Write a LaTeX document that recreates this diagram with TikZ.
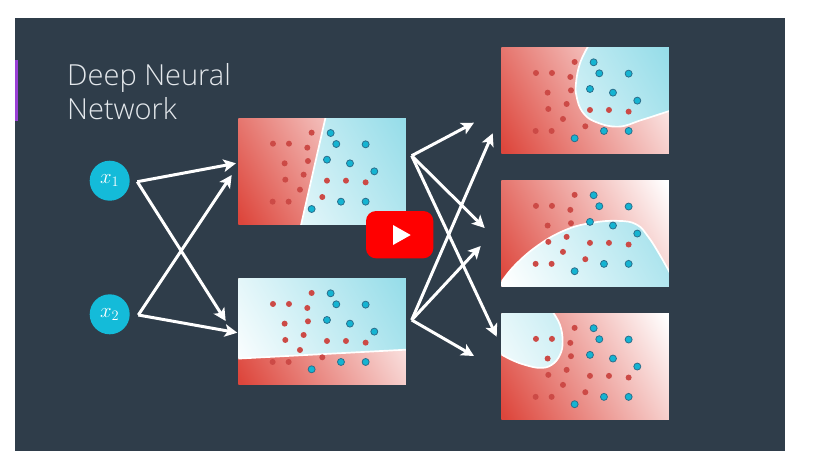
\documentclass[tikz,border=0pt]{standalone}
\usepackage{fontspec}
\setmainfont{Open Sans Light}
\usetikzlibrary{arrows.meta}
\definecolor{slide}{HTML}{2F3D4A}
\definecolor{barpurple}{HTML}{9A3FD5}
\definecolor{titlegray}{HTML}{E4E8EC}
\definecolor{nodecyan}{HTML}{14BBD9}
\definecolor{dotred}{HTML}{CC4A46}
\definecolor{dotblue}{HTML}{14B4D2}
\definecolor{dotedge}{HTML}{2B6F8C}
\pgfdeclarehorizontalshading{redgrad}{100bp}{rgb(0bp)=(0.867,0.275,0.235); rgb(17bp)=(0.867,0.275,0.235); rgb(83bp)=(1,1,1); rgb(100bp)=(1,1,1)}
\pgfdeclarehorizontalshading{bluegrad}{100bp}{rgb(0bp)=(1,1,1); rgb(17bp)=(1,1,1); rgb(83bp)=(0.59,0.867,0.914); rgb(100bp)=(0.59,0.867,0.914)}
\tikzset{
  redfield/.style={shading=redgrad,shading angle=30},
  bluefield/.style={shading=bluegrad,shading angle=30},
  bound/.style={draw=white,line width=1.7pt},
  reddot/.style={fill=dotred},
  bluedot/.style={fill=dotblue,draw=dotedge,line width=0.8pt},
  flow/.style={draw=white,line width=3pt,-{Stealth[length=12.5pt,width=12.5pt,inset=3pt]},line join=miter},
  innode/.style={circle,fill=nodecyan,minimum size=40pt,inner sep=0pt,text=white,font=\huge},
}
\newcommand{\dnnpanel}[3]{%
  \begin{scope}[shift={#1},scale=1/3]
    \shade[redfield] (0,0) rectangle (503,319);
    \begin{scope}
      \clip plot[smooth,tension=0.7] coordinates {#2} #3 -- cycle;
      \shade[bluefield] (0,0) rectangle (503,319);
    \end{scope}
    \begin{scope}
      \clip (0,0) rectangle (503,319);
      \draw[bound] plot[smooth,tension=0.7] coordinates {#2};
    \end{scope}
    \foreach \p in {(220,44),(104,77),(152,77),(207,89),(139,136),(209,129),(196,170),(141,185),(185,215),(103,251),(151,251),(266,188),(323,188),(382,193),(252,237)}
      \fill[reddot] \p circle (9);
    \foreach \p in {(277,45),(294,78),(382,79),(266,125),(335,136),(408,160),(308,251),(382,251),(220,273)}
      \filldraw[bluedot] \p circle (10.5);
  \end{scope}}
\begin{document}
\begin{tikzpicture}[x=1pt,y=-1pt]
\useasboundingbox (0,0) rectangle (820,475);
\fill[white] (0,0) rectangle (820,475);
\fill[slide] (15,18) rectangle (785,451);
\fill[barpurple] (15,59.5) rectangle (18,120.5);
\node[anchor=base west,inner sep=0pt,text=titlegray,font=\fontsize{29}{34}\selectfont] (title) at (67,85) {Deep Neural};
\node[anchor=base west,inner sep=0pt,text=titlegray,font=\fontsize{29}{34}\selectfont] (title2) at (67,119) {Network};

\dnnpanel{(238.3,118)}{(262,-3) (188,322)}{-- (510,322) -- (510,-3)}
\dnnpanel{(238.3,278.3)}{(-3,241) (506,214)}{-- (506,-3) -- (-3,-3)}
\dnnpanel{(501.3,47.3)}{(261,-4) (236,48) (224,108) (226,148) (243,193) (281,223) (351,238) (421,218) (507,190)}{-- (507,-4)}
\dnnpanel{(501.3,180.2)}{(-3,310) (41,255) (111,195) (191,150) (271,128) (351,122) (406,133) (441,170) (476,225) (507,280)}{-- (507,322) -- (-3,322)}
\dnnpanel{(501.3,313.2)}{(154,-4) (176,35) (184,85) (176,125) (151,155) (116,164) (71,155) (31,140) (-3,122)}{-- (-3,-4)}

\node[innode] (x1) at (109.7,180.7) {$x_1$};
\node[innode] (x2) at (109.7,314.3) {$x_2$};

\coordinate (a1) at (137.3,181.7);
\coordinate (a2) at (138.3,315);
\coordinate (b1) at (236,163.3);
\coordinate (b2) at (225.7,321);
\coordinate (b3) at (231.7,175);
\coordinate (b4) at (237.3,332.7);
\draw[flow] (a1) -- (b1);
\draw[flow] (a1) -- (b2);
\draw[flow] (a2) -- (b3);
\draw[flow] (a2) -- (b4);

\coordinate (c1) at (411.7,155.7);
\coordinate (c2) at (411.7,320);
\coordinate (d1) at (474,122.7);
\coordinate (d2) at (484.7,228);
\coordinate (d3) at (496.7,336.7);
\coordinate (d4) at (492.7,133.3);
\coordinate (d5) at (480.7,246);
\coordinate (d6) at (474,356);
\draw[flow] (c1) -- (d1);
\draw[flow] (c1) -- (d2);
\draw[flow] (c1) -- (d3);
\draw[flow] (c2) -- (d4);
\draw[flow] (c2) -- (d5);
\draw[flow] (c2) -- (d6);

\fill[red,rounded corners=10pt] (366,211) rectangle (433.3,258.3);
\fill[white] (393,225) -- (410.7,235) -- (393,245) -- cycle;
\end{tikzpicture}
\end{document}
